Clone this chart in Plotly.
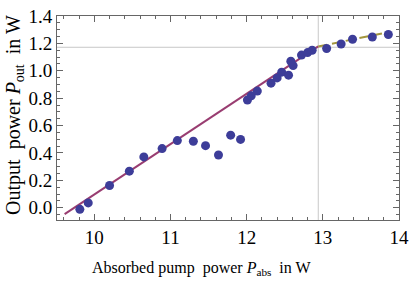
import plotly.graph_objects as go

# measured data
p_abs = [9.81, 9.92, 10.20, 10.46, 10.65, 10.89, 11.09, 11.30, 11.46, 11.63, 11.79, 11.92,
         12.01, 12.06, 12.14, 12.32, 12.40, 12.46, 12.55, 12.61, 12.58, 12.72, 12.80, 12.86,
         13.05, 13.24, 13.39, 13.65, 13.86]
p_out = [-0.012, 0.035, 0.162, 0.267, 0.371, 0.432, 0.490, 0.485, 0.453, 0.385, 0.530, 0.499,
         0.787, 0.817, 0.852, 0.910, 0.948, 0.990, 0.968, 1.038, 1.070, 1.115, 1.133, 1.150,
         1.163, 1.196, 1.231, 1.247, 1.265]

# linear fit (solid) and rollover fit (dashed)
fit1_x = [9.61, 12.94]
fit1_y = [-0.047, 1.178]
fit2_x = [12.94, 13.86]
fit2_y = [1.178, 1.282]

# reference gridlines
grid_x = 12.94
grid_y = 1.172

x_ticks = [10, 11, 12, 13, 14]
y_ticks = [0.0, 0.2, 0.4, 0.6, 0.8, 1.0, 1.2, 1.4]

font = "Liberation Serif, Times New Roman, serif"

fig = go.Figure()
fig.add_trace(go.Scatter(x=fit1_x, y=fit1_y, mode="lines",
                         line=dict(color="#993d71", width=2), showlegend=False))
fig.add_trace(go.Scatter(x=fit2_x, y=fit2_y, mode="lines",
                         line=dict(color="#a3963d", width=2, dash="9px,5px"), showlegend=False))
fig.add_trace(go.Scatter(x=p_abs, y=p_out, mode="markers",
                         marker=dict(color="#3d3d99", size=9, line=dict(width=0)),
                         showlegend=False))

fig.add_shape(type="line", xref="x", yref="paper", x0=grid_x, x1=grid_x, y0=0, y1=1,
              line=dict(color="#c8c8c8", width=1), layer="below")
fig.add_shape(type="line", xref="paper", yref="y", x0=0, x1=1, y0=grid_y, y1=grid_y,
              line=dict(color="#c8c8c8", width=1), layer="below")

axis_common = dict(showgrid=False, zeroline=False, showline=True, linecolor="#666666",
                   linewidth=1, mirror="allticks", ticks="inside", tickcolor="#666666",
                   ticklen=6, tickwidth=1, ticklabeloverflow="allow",
                   tickfont=dict(family=font, size=19, color="#000000"))

fig.update_xaxes(range=[9.51, 14.0001], tickvals=x_ticks, ticktext=[str(v) for v in x_ticks],
                 minor=dict(dtick=0.2, tick0=0, ticks="inside", ticklen=3, tickcolor="#666666"),
                 **axis_common)
fig.update_yaxes(range=[-0.09, 1.4005], tickvals=y_ticks, ticktext=[f"{v:.1f}" for v in y_ticks],
                 minor=dict(dtick=0.05, tick0=0, ticks="inside", ticklen=3, tickcolor="#666666"),
                 **axis_common)

fig.add_annotation(text="Absorbed pump  power <i>P</i><sub>abs</sub>  in W",
                   xref="paper", yref="paper", x=(205 - 57) / 348, y=-(271 - 220) / 214,
                   xanchor="center", yanchor="middle", showarrow=False,
                   font=dict(family=font, size=16, color="#000000"))
fig.add_annotation(text="Output  power <i>P</i><sub>out</sub>  in W",
                   xref="paper", yref="paper", x=-(57 - 13) / 348, y=(220 - 110) / 214,
                   xanchor="center", yanchor="middle", textangle=-90, showarrow=False,
                   font=dict(family=font, size=20, color="#000000"))

fig.update_layout(width=415, height=286, margin=dict(l=57, r=10, t=6, b=66),
                  plot_bgcolor="white", paper_bgcolor="white")

fig.write_html("out.html", config={"displayModeBar": False},
               post_script="document.body.style.margin='0';")
